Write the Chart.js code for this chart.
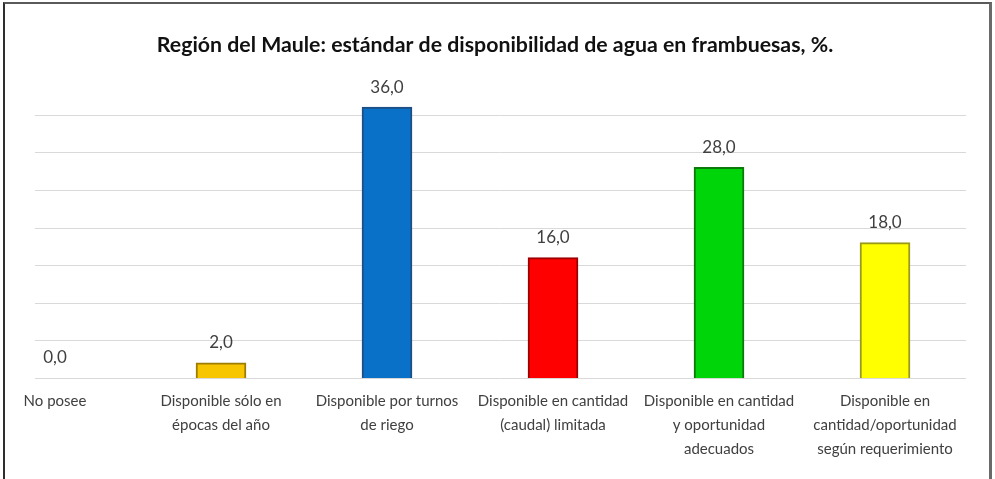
<!DOCTYPE html>
<html><head><meta charset="utf-8">
<script src="https://cdn.jsdelivr.net/npm/chart.js@4.4.0/dist/chart.umd.min.js"></script>
<style>
html,body{margin:0;padding:0;background:#fff;overflow:hidden}
#wrap{position:relative;width:995px;height:479px}
#frame{position:absolute;left:3px;top:2px;width:984px;height:490px;border-left:2px solid #2e2e2e;border-top:2px solid #5a5a5a;border-right:3px solid #6a6a6a;pointer-events:none}
canvas{position:absolute;left:0;top:0}
</style></head><body>
<div id="wrap"><canvas id="c" width="995" height="479"></canvas><div id="frame"></div></div>
<script>
const titleText = 'Región del Maule: estándar de disponibilidad de agua en frambuesas, %.';
const categories = [
  ['No posee'],
  ['Disponible sólo en', 'épocas del año'],
  ['Disponible por turnos', 'de riego'],
  ['Disponible en cantidad', '(caudal) limitada'],
  ['Disponible en cantidad', 'y oportunidad', 'adecuados'],
  ['Disponible en', 'cantidad/oportunidad', 'según requerimiento']
];
const values = [0.0, 2.0, 36.0, 16.0, 28.0, 18.0];
const gridValues = [0, 5, 10, 15, 20, 25, 30, 35];
const barColors = ['#F7C600', '#F7C600', '#0A71C8', '#FF0000', '#00D50A', '#FFFF00'];
const barBorders = ['#9C7D00', '#9C7D00', '#1D4F86', '#9E0000', '#0B7A0B', '#9A9A1A'];

const gridPlugin = {
  id: 'extGrid',
  beforeDatasetsDraw(chart) {
    const ctx = chart.ctx, y = chart.scales.y;
    ctx.save();
    ctx.strokeStyle = '#D9D9D9';
    ctx.lineWidth = 1;
    gridValues.forEach(v => {
      const py = Math.round(y.getPixelForValue(v)) + 0.5;
      ctx.beginPath(); ctx.moveTo(35, py); ctx.lineTo(966, py); ctx.stroke();
    });
    ctx.restore();
  }
};
const labelPlugin = {
  id: 'valLabels',
  afterDatasetsDraw(chart) {
    const ctx = chart.ctx, meta = chart.getDatasetMeta(0);
    ctx.save();
    ctx.fillStyle = '#404040';
    ctx.font = '17px Lato';
    ctx.textAlign = 'center';
    ctx.textBaseline = 'middle';
    meta.data.forEach((el, i) => {
      ctx.fillText(values[i].toFixed(1).replace('.', ','), el.x, el.y - 20);
    });
    ctx.restore();
  }
};
const titlePlugin = {
  id: 'myTitle',
  afterDraw(chart) {
    const ctx = chart.ctx;
    ctx.save();
    ctx.fillStyle = '#111111';
    ctx.font = 'bold 21.3px Lato';
    ctx.textAlign = 'center';
    ctx.textBaseline = 'middle';
    ctx.fillText(titleText, 495, 45);
    ctx.restore();
  }
};

new Chart(document.getElementById('c'), {
  type: 'bar',
  data: {
    labels: categories,
    datasets: [{
      data: values,
      backgroundColor: barColors,
      borderColor: barBorders,
      borderWidth: 2,
      barThickness: 50,
      clip: false
    }]
  },
  options: {
    responsive: false,
    animation: false,
    layout: { padding: { left: 55, right: 110, top: 77, bottom: 7 } },
    plugins: { legend: { display: false }, title: { display: false }, tooltip: { enabled: false } },
    scales: {
      x: {
        offset: false,
        grid: { display: false, drawTicks: false },
        border: { display: false },
        ticks: { autoSkip: false, maxRotation: 0, minRotation: 0, padding: 11, color: '#404040',
                 font: { family: 'Lato', size: 15, lineHeight: 1.6 } }
      },
      y: { display: false, min: 0, max: 40 }
    }
  },
  plugins: [gridPlugin, labelPlugin, titlePlugin]
});
</script>
</body></html>
